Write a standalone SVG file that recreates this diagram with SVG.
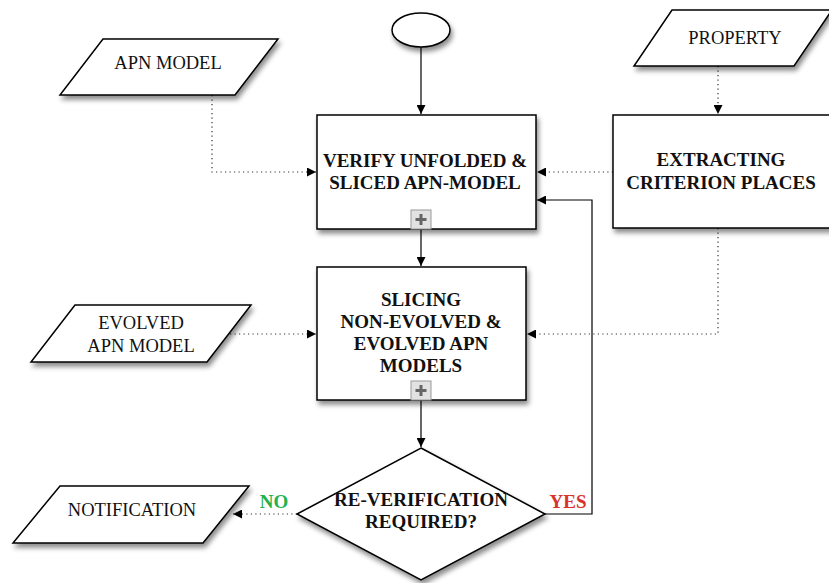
<svg xmlns="http://www.w3.org/2000/svg" width="829" height="583" viewBox="0 0 829 583">
  <defs>
    <filter id="shadow" x="-20%" y="-20%" width="150%" height="150%">
      <feDropShadow dx="2" dy="4" stdDeviation="2.5" flood-color="#000" flood-opacity="0.45"/>
    </filter>
    <marker id="arrow" viewBox="0 0 10 10" refX="10" refY="5" markerWidth="9" markerHeight="9" markerUnits="userSpaceOnUse" orient="auto">
      <path d="M0,0 L10,5 L0,10 Z" fill="#000"/>
    </marker>
    <g id="plus">
      <rect x="0" y="0" width="20" height="19" fill="#e2e2e2" stroke="#9a9a9a" stroke-width="1"/>
      <path d="M10,4 V15 M4.5,9.5 H15.5" stroke="#666" stroke-width="3"/>
    </g>
  </defs>
  <style>
    .shape { fill: #fff; stroke: #000; stroke-width: 1.5; filter: url(#shadow); }
    .bold { font-family: "Liberation Serif", "Times New Roman", serif; font-weight: bold; font-size: 19px; fill: #111; text-anchor: middle; }
    .plain { font-family: "Liberation Serif", "Times New Roman", serif; font-size: 18.5px; fill: #111; text-anchor: middle; }
    .solid { fill: none; stroke: #000; stroke-width: 1.2; marker-end: url(#arrow); }
    .dotted { fill: none; stroke: #333; stroke-width: 1.2; stroke-dasharray: 1.2 3.3; marker-end: url(#arrow); }
    .no { fill: #22b14c; }
    .yes { fill: #d8342c; }
  </style>

  <rect width="829" height="583" fill="#fff"/>

  <!-- connectors -->
  <g id="connectors">
    <path class="solid" d="M421,47 V114"/>
    <path class="solid" d="M421,229 V266"/>
    <path class="solid" d="M421,400 V447"/>
    <path class="solid" d="M545,514 H592 V200 H537"/>
    <path class="dotted" d="M212,95 V172 H316"/>
    <path class="dotted" d="M613,172 H537"/>
    <path class="dotted" d="M718,66 V114"/>
    <path class="dotted" d="M718,228 V334 H527"/>
    <path class="dotted" d="M230,334 H316"/>
    <path class="dotted" d="M297,514 H233"/>
    <text class="bold no" x="274" y="508">NO</text>
    <text class="bold yes" x="568" y="508">YES</text>
  </g>

  <!-- start -->
  <g id="start">
    <ellipse class="shape" cx="421" cy="30" rx="29" ry="17"/>
  </g>

  <!-- inputs -->
  <g id="apn-model">
    <polygon class="shape" points="103,39 278,39 235,95 60,95"/>
    <text class="plain" x="168" y="69">APN MODEL</text>
  </g>

  <g id="property">
    <polygon class="shape" points="672,10 832,10 794,66 634,66"/>
    <text class="plain" x="735" y="44">PROPERTY</text>
  </g>

  <g id="evolved-apn-model">
    <polygon class="shape" points="75,305 251,305 207,362 31,362"/>
    <text class="plain" x="141" y="329">EVOLVED</text>
    <text class="plain" x="141" y="352">APN MODEL</text>
  </g>

  <g id="notification">
    <polygon class="shape" points="60,486 249,486 203,543 13,543"/>
    <text class="plain" x="132" y="516">NOTIFICATION</text>
  </g>

  <!-- processes -->
  <g id="verify">
    <rect class="shape" x="317" y="115" width="219" height="114"/>
    <text class="bold" x="425" y="167">VERIFY UNFOLDED &amp;</text>
    <text class="bold" x="425" y="189">SLICED APN-MODEL</text>
    <use href="#plus" x="411" y="210"/>
  </g>

  <g id="extracting">
    <rect class="shape" x="613" y="115" width="222" height="113"/>
    <text class="bold" x="721" y="166">EXTRACTING</text>
    <text class="bold" x="721" y="189">CRITERION PLACES</text>
  </g>

  <g id="slicing">
    <rect class="shape" x="317" y="267" width="209" height="133"/>
    <text class="bold" x="421" y="306">SLICING</text>
    <text class="bold" x="421" y="328">NON-EVOLVED &amp;</text>
    <text class="bold" x="421" y="350">EVOLVED APN</text>
    <text class="bold" x="421" y="372">MODELS</text>
    <use href="#plus" x="411" y="381"/>
  </g>

  <!-- decision -->
  <g id="decision">
    <polygon class="shape" points="421,448 545,514 421,580 297,514"/>
    <text class="bold" x="421" y="506">RE-VERIFICATION</text>
    <text class="bold" x="421" y="528">REQUIRED?</text>
  </g>
</svg>
